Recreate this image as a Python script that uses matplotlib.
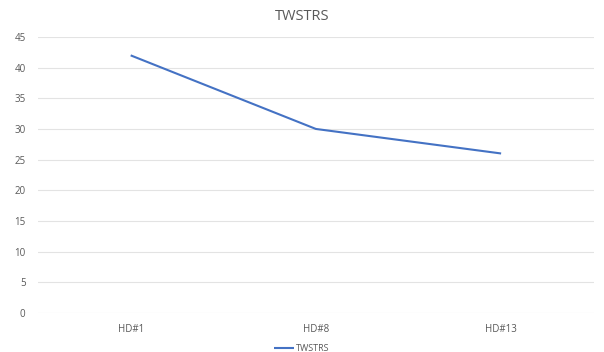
import matplotlib.pyplot as plt

categories = ['HD#1', 'HD#8', 'HD#13']
twstrs = [42, 30, 26]
y_ticks = [0, 5, 10, 15, 20, 25, 30, 35, 40, 45]

plt.rcParams['font.family'] = ['Open Sans', 'DejaVu Sans']
text_color = '#595959'

fig = plt.figure(figsize=(6.04, 3.52), dpi=100)
ax = fig.add_axes([0.063, 0.111, 0.92, 0.784])

x = range(len(categories))
ax.plot(x, twstrs, color='#4472C4', linewidth=1.5, label='TWSTRS', solid_capstyle='butt')

ax.set_xlim(-0.5, len(categories) - 0.5)
ax.set_ylim(0, 45)
ax.set_xticks(list(x))
ax.set_xticklabels(categories)
ax.set_yticks(y_ticks)
ax.yaxis.grid(True, color='#E3E3E3', linewidth=0.8)
ax.set_axisbelow(True)
for s in ax.spines.values():
    s.set_visible(False)
ax.tick_params(length=0, labelsize=7, colors=text_color)
ax.tick_params(axis='x', pad=8)
ax.tick_params(axis='y', pad=9)

fig.suptitle('TWSTRS', y=0.975, fontsize=10.5, color=text_color)
fig.legend(loc='lower center', bbox_to_anchor=(0.5, -0.025), frameon=False,
           fontsize=6.5, labelcolor=text_color, handlelength=2.2, handletextpad=0.2)

fig.savefig('out.png', dpi=100, facecolor='white')
